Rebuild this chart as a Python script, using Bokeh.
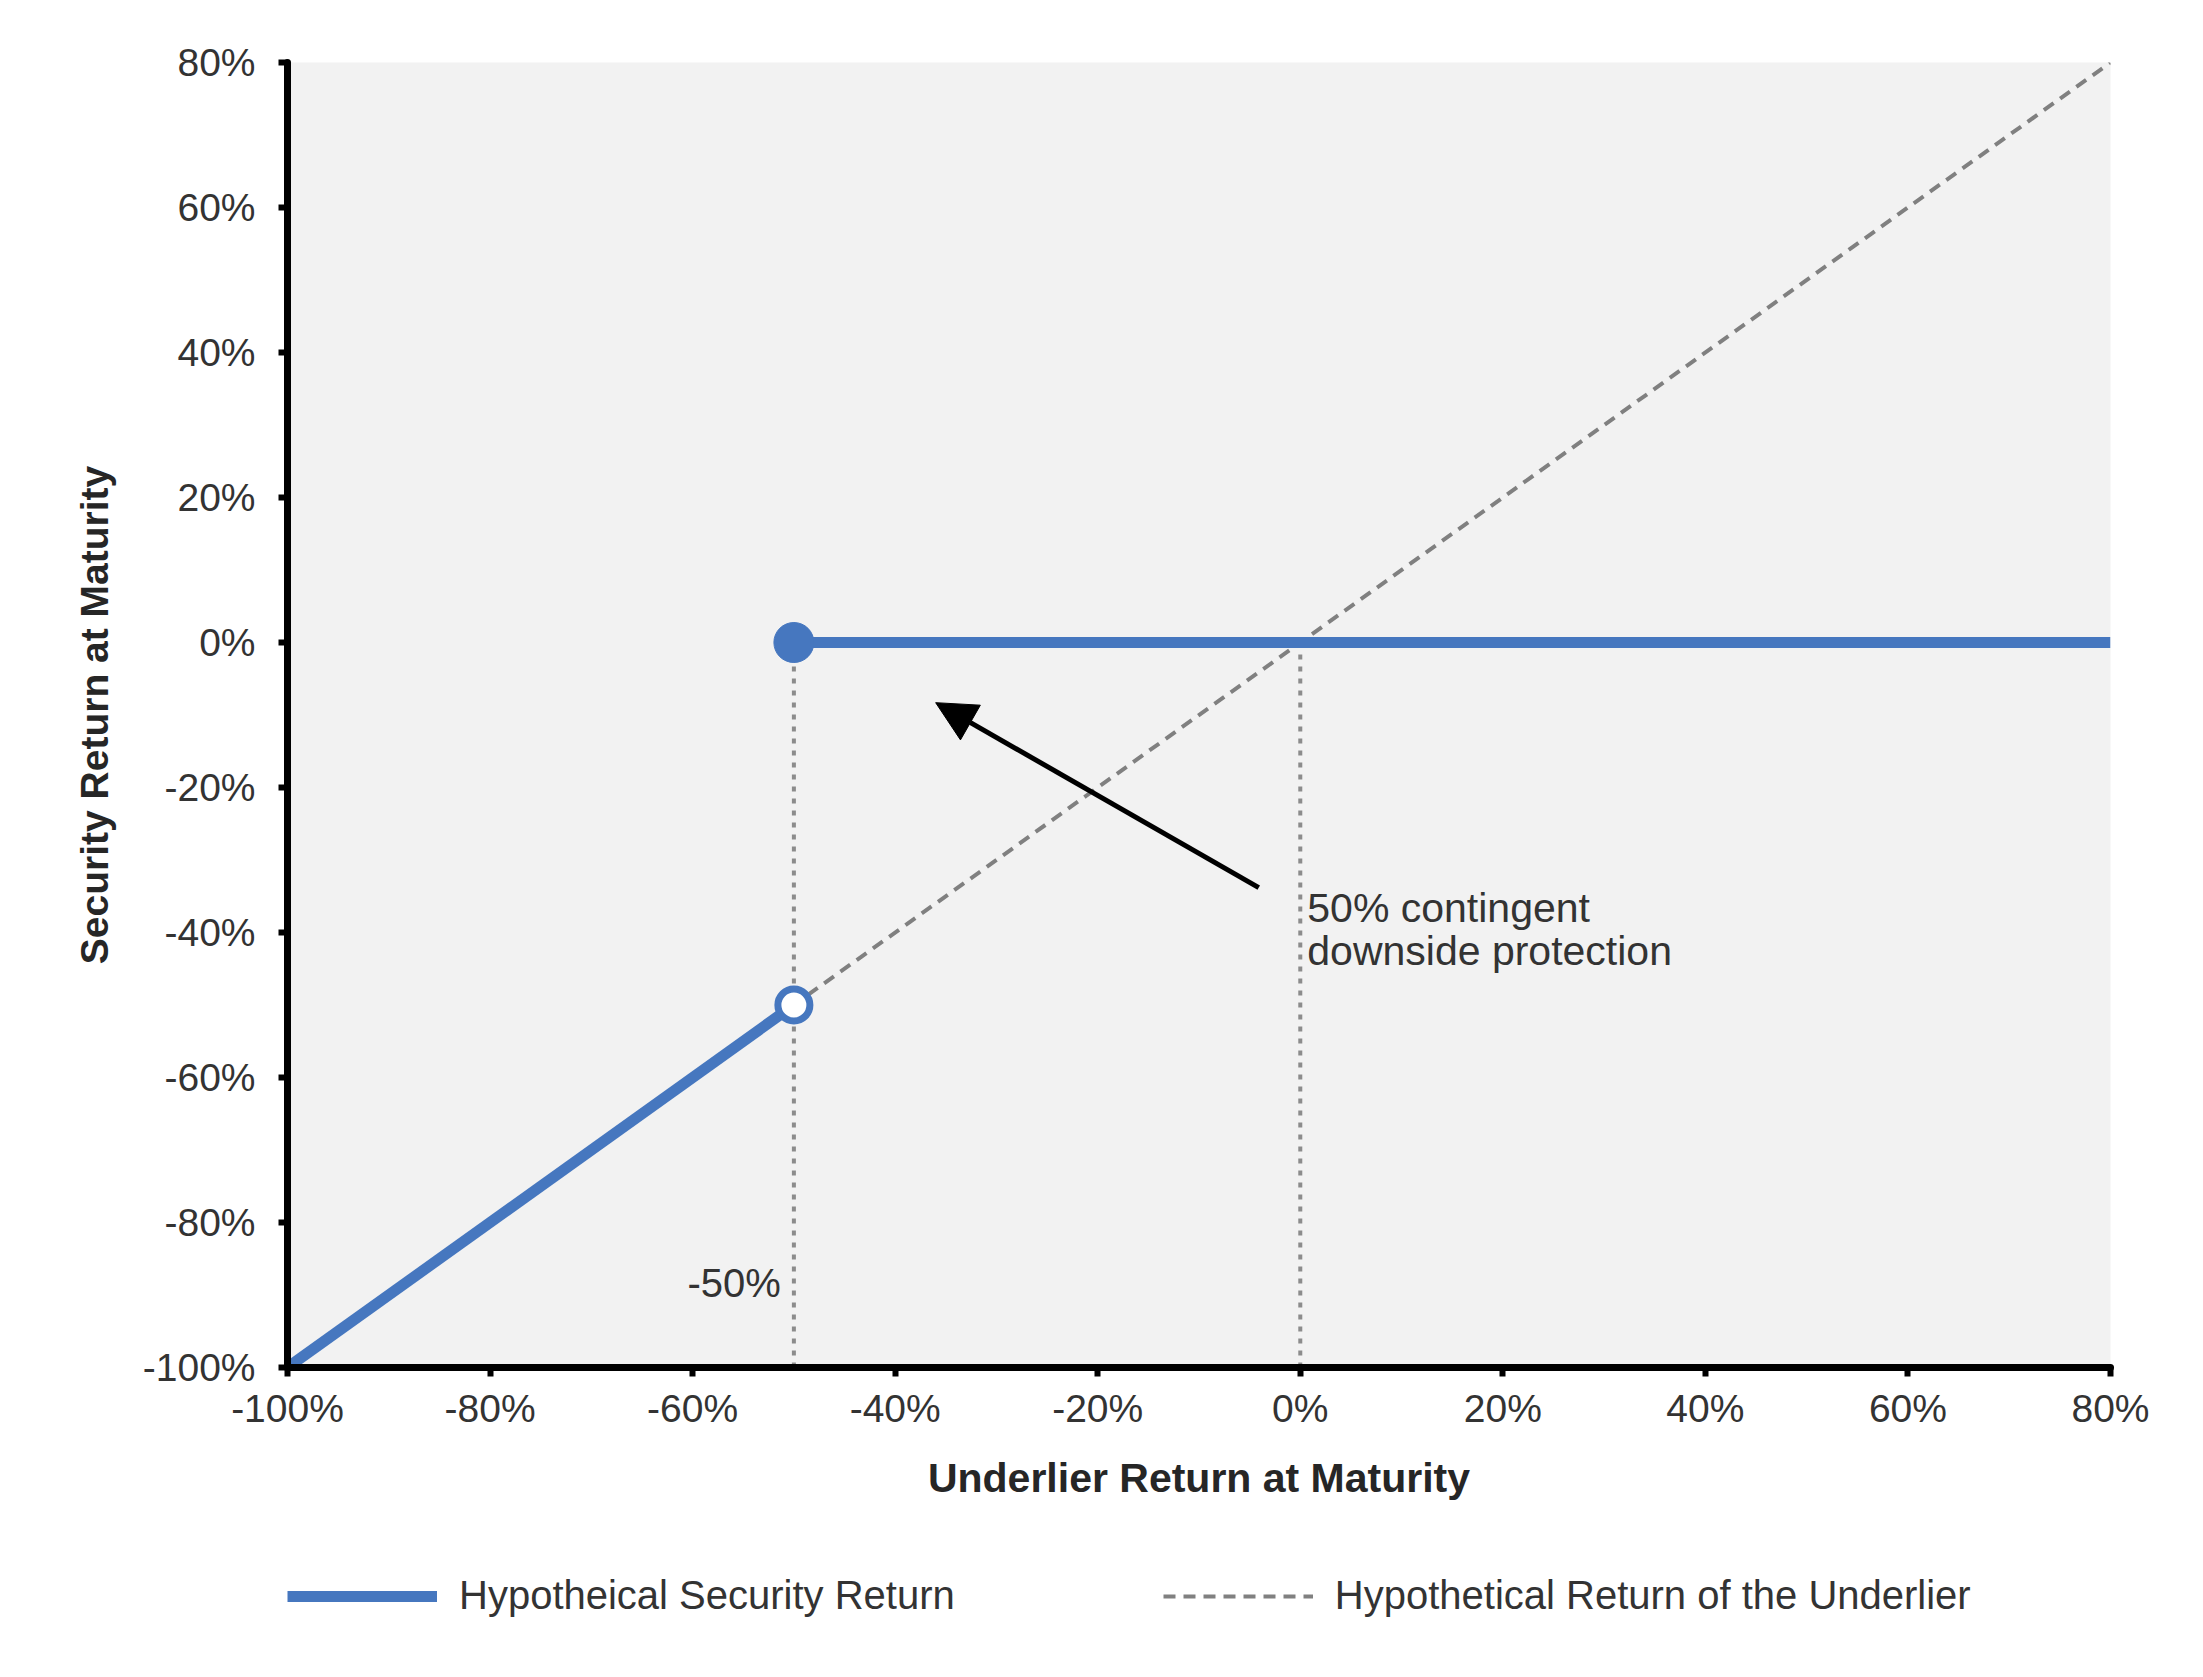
from bokeh.plotting import figure
from bokeh.layouts import column
from bokeh.models import (Range1d, FixedTicker, PrintfTickFormatter, Label, Arrow,
                          NormalHead, Legend, LegendItem)
from bokeh.embed import file_html
from bokeh.resources import INLINE

# ---- data (percent) ----
tick_values = [-100, -80, -60, -40, -20, 0, 20, 40, 60, 80]
barrier = -50
security_low_x = [-100, -50]
security_low_y = [-100, -50]
security_high_x = [-50, 80]
security_high_y = [0, 0]
underlier_x = [-100, 80]
underlier_y = [-100, 80]
guide_x = [-50, 0]
guide_top = [0, 0]
guide_bottom = [-100, -100]
arrow_from = (-4.1, -33.8)
arrow_to = (-36.0, -8.3)
series_names = ["Hypotheical Security Return", "Hypothetical Return of the Underlier"]

BLUE = "#4677BF"
GRAY = "#808080"
FONT = "Liberation Sans"
W = 2200

p = figure(width=W, height=1527, x_range=Range1d(-100, 80), y_range=Range1d(-100, 80),
           output_backend="svg", toolbar_location=None,
           min_border_left=287, min_border_right=90, min_border_top=62, min_border_bottom=160)
p.background_fill_color = "#f2f2f2"
p.border_fill_color = "white"
p.outline_line_color = None
p.xgrid.visible = False
p.ygrid.visible = False

for ax in (p.xaxis[0], p.yaxis[0]):
    ax.ticker = FixedTicker(ticks=tick_values)
    ax.formatter = PrintfTickFormatter(format="%d%%")
    ax.axis_line_width = 7
    ax.axis_line_color = "black"
    ax.axis_line_cap = "round"
    ax.major_tick_line_width = 6
    ax.major_tick_line_color = "black"
    ax.major_tick_out = 9
    ax.major_tick_in = 0
    ax.minor_tick_line_color = None
    ax.major_label_text_font = FONT
    ax.major_label_text_font_size = "39px"
    ax.major_label_text_color = "#333333"
    ax.axis_label_text_font = FONT
    ax.axis_label_text_font_style = "bold"
    ax.axis_label_text_color = "#262626"

p.xaxis.axis_label = "Underlier Return at Maturity"
p.xaxis.axis_label_text_font_size = "41px"
p.xaxis.major_label_standoff = 10
p.xaxis.axis_label_standoff = 22
p.yaxis.axis_label = "Security Return at Maturity"
p.yaxis.axis_label_text_font_size = "39px"
p.yaxis.major_label_standoff = 23
p.yaxis.axis_label_standoff = 24

# guide lines
p.segment(x0=guide_x, y0=guide_top, x1=guide_x, y1=guide_bottom,
          line_color="#8c8c8c", line_width=4, line_dash="5 7")

# underlier dashed
p.line(underlier_x, underlier_y, line_color=GRAY, line_width=4, line_dash="12 8")

# security return
p.line(security_low_x, security_low_y, line_color=BLUE, line_width=11)
p.line(security_high_x, security_high_y, line_color=BLUE, line_width=11)
p.scatter([security_high_x[0]], [security_high_y[0]], size=40, marker="circle",
          fill_color=BLUE, line_color=BLUE)
p.scatter([security_low_x[-1]], [security_low_y[-1]], size=32, marker="circle",
          fill_color="white", line_color=BLUE, line_width=7)

# arrow
p.add_layout(Arrow(end=NormalHead(size=40, fill_color="black", line_color="black"),
                   x_start=arrow_from[0], y_start=arrow_from[1],
                   x_end=arrow_to[0], y_end=arrow_to[1],
                   line_width=5, line_color="black"))

# annotations
p.add_layout(Label(x=0, y=-36.6, x_offset=7, text="50% contingent", text_font=FONT,
                   text_font_size="41px", text_color="#333333", text_baseline="middle"))
p.add_layout(Label(x=0, y=-42.5, x_offset=7, text="downside protection", text_font=FONT,
                   text_font_size="41px", text_color="#333333", text_baseline="middle"))
p.add_layout(Label(x=barrier, y=-88.3, x_offset=-13, text="-50%", text_font=FONT,
                   text_font_size="40px", text_color="#333333", text_baseline="middle",
                   text_align="right"))

# ---- legend strip: same series drawn out of view, only their legend samples show ----
lg = figure(width=W, height=130, x_range=Range1d(1000, 1001), y_range=Range1d(1000, 1001),
            output_backend="svg", toolbar_location=None,
            min_border_left=0, min_border_right=0, min_border_top=0, min_border_bottom=0)
lg.axis.visible = False
lg.grid.visible = False
lg.outline_line_color = None
lg.background_fill_color = "white"
r_sec = lg.line(security_high_x, security_high_y, line_color=BLUE, line_width=11)
r_under = lg.line(underlier_x, underlier_y, line_color=GRAY, line_width=4, line_dash="12 8")
legend = Legend(items=[LegendItem(label=series_names[0], renderers=[r_sec]),
                       LegendItem(label=series_names[1], renderers=[r_under])],
                orientation="horizontal", location=(0, 39), padding=0, margin=0,
                spacing=208, glyph_width=150, label_standoff=22,
                label_text_font=FONT, label_text_font_size="40px", label_text_color="#333333",
                border_line_color=None, background_fill_alpha=0)
lg.add_layout(legend, "center")

layout = column(p, lg, spacing=0)
open("out.html", "w").write(file_html(layout, INLINE))
